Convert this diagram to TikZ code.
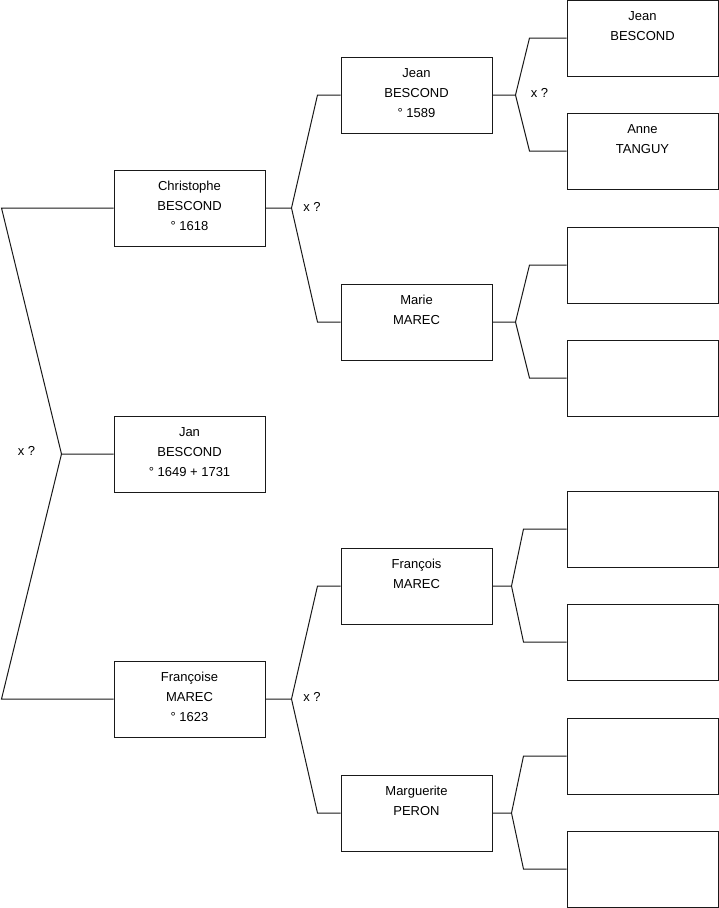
\documentclass[tikz,border=0pt]{standalone}
\usepackage{fontspec}
\setmainfont{Liberation Sans}
\usetikzlibrary{positioning}
\newcommand{\who}[1]{\parbox[c][64pt][t]{139pt}{\centering\strut#1}}

\begin{document}
\begin{tikzpicture}[x=1pt,y=-1pt,font=\fontsize{13}{20}\selectfont,
 pers/.style={draw=black!90,line width=1pt,inner sep=6pt,fill=white},
 lnk/.style={draw=black!90,line width=1pt},
 xq/.style={inner sep=1pt}]
\useasboundingbox (0,0) rectangle (719,908);
% generation 1 and 2
\node[pers] (jan) at (189.5,454) {\who{Jan\\BESCOND\\° 1649 + 1731}};
\node[pers] (chr) at (189.5,208) {\who{Christophe\\BESCOND\\° 1618}};
\node[pers] (fra) at (189.5,699) {\who{Françoise\\MAREC\\° 1623}};
% generation 3
\node[pers] (jea) at (416.5,95) {\who{Jean\\BESCOND\\° 1589}};
\node[pers] (mar) at (416.5,322) {\who{Marie\\MAREC}};
\node[pers] (frc) at (416.5,586) {\who{François\\MAREC}};
\node[pers] (mag) at (416.5,813) {\who{Marguerite\\PERON}};
% generation 4
\node[pers] (g1) at (642.5,38) {\who{Jean\\BESCOND}};
\node[pers] (g2) at (642.5,151) {\who{Anne\\TANGUY}};
\node[pers] (g3) at (642.5,265) {\who{}};
\node[pers] (g4) at (642.5,378) {\who{}};
\node[pers] (g5) at (642.5,529) {\who{}};
\node[pers] (g6) at (642.5,642) {\who{}};
\node[pers] (g7) at (642.5,756) {\who{}};
\node[pers] (g8) at (642.5,869) {\who{}};
% marriages
\node[xq] (x0) at (26.5,451) {x ?};
\node[xq] (x1) at (312,207) {x ?};
\node[xq] (x2) at (312,697) {x ?};
\node[xq] (x3) at (539.5,93) {x ?};
% links
\draw[lnk] (jan.west) -- ++(-52,0) coordinate (f0)
 -- ([xshift=-112]chr.west) -- (chr.west);
\draw[lnk] (f0) -- ([xshift=-112]fra.west) -- (fra.west);
\draw[lnk] (chr.east) -- ++(26,0) coordinate (f1)
 -- ([xshift=-23]jea.west) -- (jea.west);
\draw[lnk] (f1) -- ([xshift=-23]mar.west) -- (mar.west);
\draw[lnk] (fra.east) -- ++(26,0) coordinate (f2)
 -- ([xshift=-23]frc.west) -- (frc.west);
\draw[lnk] (f2) -- ([xshift=-23]mag.west) -- (mag.west);
\draw[lnk] (jea.east) -- ++(23,0) coordinate (f3)
 -- ([xshift=-37]g1.west) -- (g1.west);
\draw[lnk] (f3) -- ([xshift=-37]g2.west) -- (g2.west);
\draw[lnk] (mar.east) -- ++(23,0) coordinate (f4)
 -- ([xshift=-37]g3.west) -- (g3.west);
\draw[lnk] (f4) -- ([xshift=-37]g4.west) -- (g4.west);
\draw[lnk] (frc.east) -- ++(19,0) coordinate (f5)
 -- ([xshift=-43]g5.west) -- (g5.west);
\draw[lnk] (f5) -- ([xshift=-43]g6.west) -- (g6.west);
\draw[lnk] (mag.east) -- ++(19,0) coordinate (f6)
 -- ([xshift=-43]g7.west) -- (g7.west);
\draw[lnk] (f6) -- ([xshift=-43]g8.west) -- (g8.west);
\end{tikzpicture}
\end{document}
